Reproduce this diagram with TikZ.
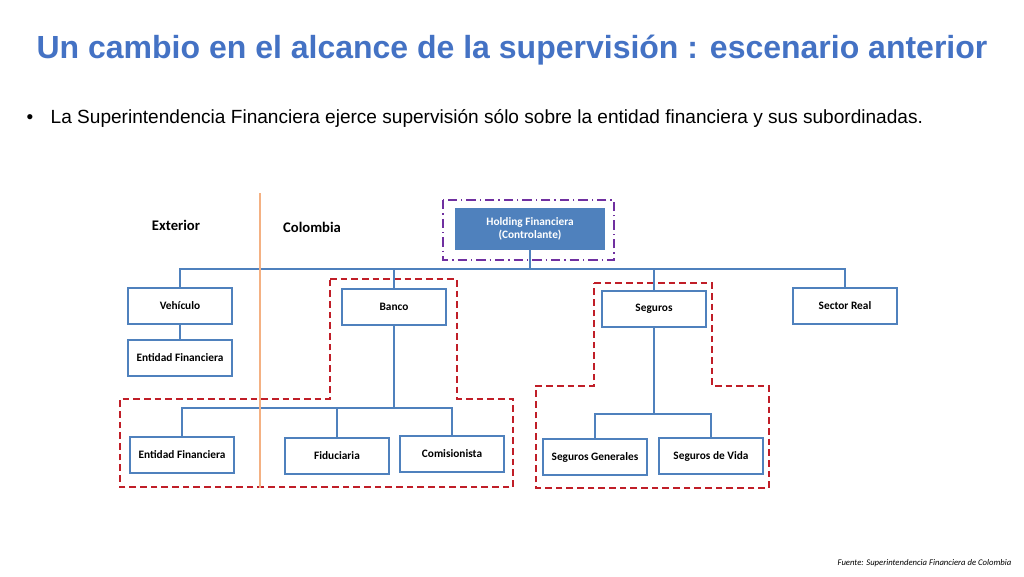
\documentclass[tikz,border=0pt]{standalone}
\usepackage{fontspec}
\setmainfont{Liberation Sans}
\newfontfamily\boxfont{Carlito}
\usetikzlibrary{positioning}
\definecolor{titleblue}{RGB}{68,114,196}
\definecolor{boxblue}{RGB}{79,129,189}
\definecolor{zonered}{RGB}{192,30,40}
\definecolor{holdpurple}{RGB}{112,48,160}
\definecolor{borderorange}{RGB}{244,177,131}

\tikzset{
  entity/.style={draw=boxblue,line width=1.2pt,fill=white,minimum width=78pt,minimum height=27pt,
                 font=\boxfont\bfseries\fontsize{8.5}{10}\selectfont,inner sep=1pt},
  link/.style={draw=boxblue,line width=1.5pt},
  zone/.style={draw=zonered,dash pattern=on 5pt off 3pt,line width=1.1pt}
}

\begin{document}
\begin{tikzpicture}[x=0.75pt,y=-0.75pt]
\useasboundingbox (0,0) rectangle (1024,576);

% title and bullet
\node[font=\bfseries\fontsize{24}{28}\selectfont,text=titleblue] (title) at (512,50) {Un cambio en el alcance de la supervisión : escenario anterior};
\node[anchor=west,font=\fontsize{14.3}{16}\selectfont] (bullet) at (22,118) {\textbullet\hspace{13pt}La Superintendencia Financiera ejerce supervisión sólo sobre la entidad financiera y sus subordinadas.};

% zones
\draw[zone] (330,279) -- (457,279) -- (457,399) -- (513,399) -- (513,487) -- (120,487) -- (120,399) -- (330,399) -- cycle;
\draw[zone] (594,283) -- (712,283) -- (712,386) -- (769,386) -- (769,488) -- (536,488) -- (536,386) -- (594,386) -- cycle;
\draw[holdpurple,dash pattern=on 7pt off 3pt on 1pt off 3pt,line width=1.1pt] (443,200) rectangle (614,260);

% entities
\node[entity,fill=boxblue,text=white,minimum width=112pt,minimum height=31pt,align=center] (hold) at (530,229) {Holding Financiera\\(Controlante)};
\node[entity] (veh) at (180,306) {Vehículo};
\node[entity] (extent) at (180,358) {Entidad Financiera};
\node[entity] (banco) at (394,307) {Banco};
\node[entity] (seguros) at (654,309) {Seguros};
\node[entity] (real) at (845,306) {Sector Real};
\node[entity] (ent) at (182,455) {Entidad Financiera};
\node[entity] (fidu) at (337,456) {Fiduciaria};
\node[entity] (comi) at (452,454) {Comisionista};
\node[entity] (generales) at (595,457) {Seguros Generales};
\node[entity] (vida) at (711,456) {Seguros de Vida};

% connectors
\coordinate (bar) at (530,269);
\coordinate (bancobar) at (394,408);
\coordinate (segbar) at (654,414);
\draw[link] (hold) -- (bar);
\draw[link] (bar) -| (veh);
\draw[link] (bar) -| (banco);
\draw[link] (bar) -| (seguros);
\draw[link] (bar) -| (real);
\draw[link] (veh) -- (extent);
\draw[link] (banco) -- (bancobar);
\draw[link] (bancobar) -| (ent);
\draw[link] (bancobar) -| (fidu);
\draw[link] (bancobar) -| (comi);
\draw[link] (seguros) -- (segbar);
\draw[link] (segbar) -| (generales);
\draw[link] (segbar) -| (vida);

% border between exterior and colombia
\draw[borderorange,line width=1.8pt] (260,193) -- (260,488);
\node[font=\boxfont\bfseries\fontsize{11}{12}\selectfont] (exterior) at (176,225) {Exterior};
\node[font=\boxfont\bfseries\fontsize{11}{12}\selectfont] (colombia) at (312,227) {Colombia};

\node[anchor=east,font=\boxfont\itshape\fontsize{6.5}{7}\selectfont] (source) at (1016,563) {Fuente: Superintendencia Financiera de Colombia};
\end{tikzpicture}
\end{document}
